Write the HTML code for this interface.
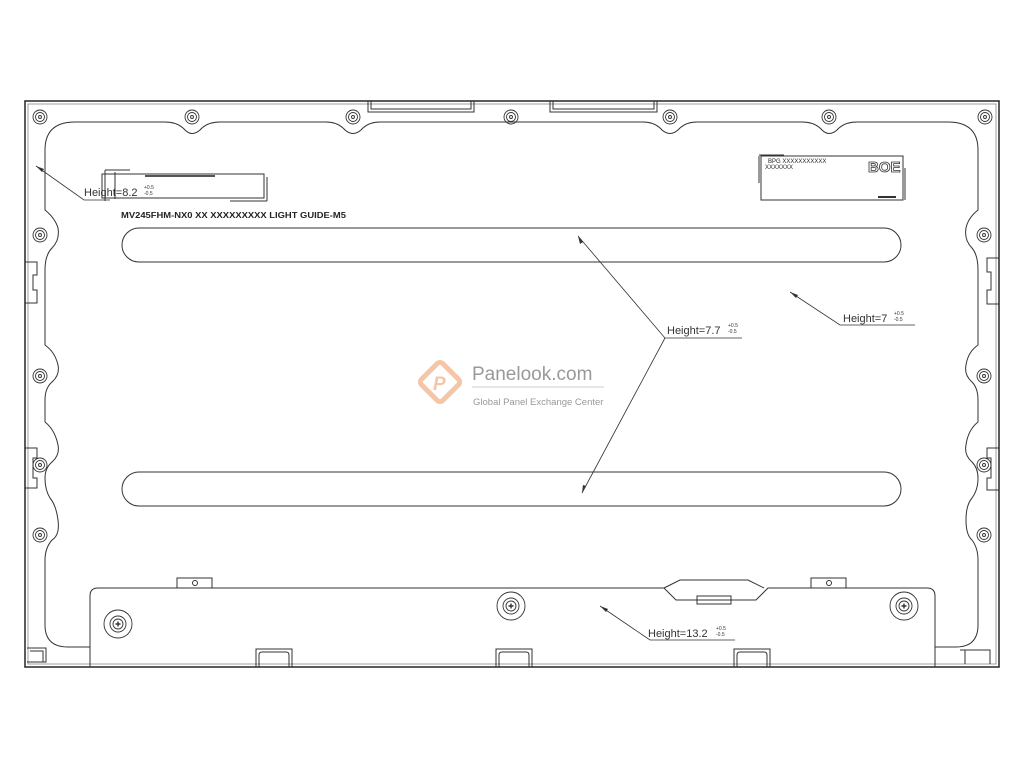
<!DOCTYPE html>
<html><head><meta charset="utf-8"><style>
html,body{margin:0;padding:0;background:#fff;width:1024px;height:768px;overflow:hidden}
svg{display:block}
text{font-family:"Liberation Sans",sans-serif}
</style></head><body>
<svg width="1024" height="768" viewBox="0 0 1024 768" xmlns="http://www.w3.org/2000/svg" fill="none" stroke="#333" stroke-width="1">
<defs>
<g id="s"><circle r="7"/><circle r="4.5"/><circle r="1.5"/></g>
<g id="b"><circle r="14"/><circle r="8"/><circle r="5"/><path d="M-2.5 0 H2.5 M0 -2.5 V2.5" stroke-width="1.4"/></g>
</defs>
<!-- outer frame -->
<rect x="25" y="101" width="974" height="566" stroke-width="1.6"/>
<rect x="28" y="104" width="968" height="560" stroke="#777" stroke-width="0.7"/>
<!-- top tabs -->
<path d="M368 101 V112 H474 V101 M371 101 V109 H471 V101" />
<path d="M550 101 V112 H657 V101 M553 101 V109 H654 V101" />
<!-- inner boundary -->
<path d="M90 647 H68 Q45 647 45 625 V560 Q45 548 52 540 Q60 535 58 520 Q56 505 50 498 Q45 490 45 478 Q45 468 52 462 Q60 455 58 445 Q55 430 45 422 V400 Q45 388 52 382 Q60 375 58 365 Q55 352 45 345 V270 Q45 255 52 248 Q60 240 58 228 Q55 218 45 210 V150 Q45 122 75 122 H165 Q178 122 185 130 Q192 137 200 130 Q207 122 220 122 H326 Q338 122 345 130 Q353 137 361 130 Q368 122 380 122 H643 Q655 122 662 130 Q670 137 678 130 Q685 122 697 122 H802 Q815 122 822 130 Q829 137 837 130 Q844 122 857 122 H948 Q978 122 978 150 V210 Q968 218 966 228 Q964 240 972 248 Q978 255 978 270 V345 Q968 352 966 365 Q964 375 972 382 Q978 388 978 400 V422 Q968 430 966 445 Q964 455 972 462 Q978 468 978 478 Q978 490 972 498 Q966 505 966 520 Q966 535 972 540 Q978 548 978 560 V625 Q978 647 956 647 H935"/>
<!-- side clips -->
<path d="M25 262 H37 V275 H33 V290 H37 V303 H25" />
<path d="M25 448 H37 V458 H33 V478 H37 V488 H25" />
<path d="M999 258 H987 V272 H991 V290 H987 V304 H999" />
<path d="M999 448 H987 V458 H991 V478 H987 V490 H999" />
<!-- screws -->
<g stroke-width="0.9">
<use href="#s" x="40" y="117"/><use href="#s" x="192" y="117"/><use href="#s" x="353" y="117"/><use href="#s" x="511" y="117"/><use href="#s" x="670" y="117"/><use href="#s" x="829" y="117"/><use href="#s" x="985" y="117"/>
<use href="#s" x="40" y="235"/><use href="#s" x="40" y="376"/><use href="#s" x="40" y="465"/><use href="#s" x="40" y="535"/>
<use href="#s" x="984" y="235"/><use href="#s" x="984" y="376"/><use href="#s" x="984" y="465"/><use href="#s" x="984" y="535"/>
</g>
<!-- slots -->
<rect x="122" y="228" width="779" height="34" rx="17"/>
<rect x="122" y="472" width="779" height="34" rx="17"/>
<!-- labels -->
<rect x="102" y="174" width="162" height="24"/>
<path d="M105 170 H130 M105 170 V201 M115 172 V199 M267 177 V201 M230 201 H267" />
<line x1="145" y1="176" x2="215" y2="176" stroke-width="2" stroke="#555"/>
<text x="121" y="218" font-size="8" fill="#222" stroke="none" font-weight="bold" textLength="225" lengthAdjust="spacingAndGlyphs">MV245FHM-NX0 XX XXXXXXXXX LIGHT GUIDE-M5</text>
<rect x="761" y="156" width="142" height="44"/>
<path d="M759 156 V183 M905 168 V200 M759 155 H784"/>
<text x="768" y="163" font-size="6" fill="#222" stroke="none">BPG XXXXXXXXXXX</text>
<text x="765" y="169" font-size="6" fill="#222" stroke="none">XXXXXXX</text>
<text x="868" y="172" font-size="15" fill="#fff" stroke="#333" stroke-width="0.8" font-weight="bold">BOE</text>
<line x1="878" y1="197" x2="896" y2="197" stroke-width="2"/>
<!-- bottom plate -->
<path d="M90 667 V596 Q90 588 98 588 H664 L676 600 H756 L768 588 H927 Q935 588 935 596 V667"/>
<path d="M664 588 L680 580 H748 L764 588"/>
<rect x="697" y="596" width="34" height="8"/>
<rect x="177" y="578" width="35" height="10"/><circle cx="195" cy="583" r="2.5"/>
<rect x="811" y="578" width="35" height="10"/><circle cx="829" cy="583" r="2.5"/>
<g stroke-width="0.9">
<use href="#b" x="118" y="624"/><use href="#b" x="511" y="606"/><use href="#b" x="904" y="606"/>
</g>
<path d="M256 667 V649 H292 V667 M259 667 V655 Q259 652 262 652 H286 Q289 652 289 655 V667"/>
<path d="M496 667 V649 H532 V667 M499 667 V655 Q499 652 502 652 H526 Q529 652 529 655 V667"/>
<path d="M734 667 V649 H770 V667 M737 667 V655 Q737 652 740 652 H764 Q767 652 767 655 V667"/>
<path d="M27 648 H46 V662 H27 M30 651 H43 V662" />
<path d="M960 650 H990 V664 M965 650 V664"/>
<!-- arrows -->
<g stroke="#333" stroke-width="0.8">
<path d="M36 166 L84 200 H110"/>
<path d="M578 236 L665 338 L582 493"/>
<path d="M665 338 H742"/>
<path d="M790 292 L840 325 H915"/>
<path d="M600 606 L650 640 H735"/>
</g>
<g fill="#333" stroke="none">
<path d="M36 166 l8 3 l-2 3z"/>
<path d="M578 236 l2 8 l3 -2z"/>
<path d="M582 493 l1 -8 l3 1z"/>
<path d="M790 292 l8 3 l-2 3z"/>
<path d="M600 606 l8 3 l-2 3z"/>
</g>
<g fill="#333" stroke="none" font-size="11">
<text x="84" y="196">Height=8.2</text><text x="144" y="189" font-size="5">+0.5</text><text x="144" y="195" font-size="5">-0.5</text>
<text x="667" y="334">Height=7.7</text><text x="728" y="327" font-size="5">+0.5</text><text x="728" y="333" font-size="5">-0.5</text>
<text x="843" y="322">Height=7</text><text x="894" y="315" font-size="5">+0.5</text><text x="894" y="321" font-size="5">-0.5</text>
<text x="648" y="637">Height=13.2</text><text x="716" y="630" font-size="5">+0.5</text><text x="716" y="636" font-size="5">-0.5</text>
</g>
<!-- watermark -->
<g opacity="0.6">
<rect x="425" y="367" width="30" height="30" rx="4" transform="rotate(45 440 382)" stroke="#f0a070" stroke-width="5"/>
<text x="433" y="390" font-size="19" fill="#f0a070" stroke="none" font-style="italic" font-weight="bold">P</text>
</g>
<text x="472" y="380" font-size="19" fill="#999" stroke="none" font-family="Liberation Serif,serif">Panelook.com</text>
<line x1="472" y1="387" x2="604" y2="387" stroke="#ccc"/>
<text x="473" y="405" font-size="9.5" fill="#999" stroke="none">Global Panel Exchange Center</text>
</svg>
</body></html>
